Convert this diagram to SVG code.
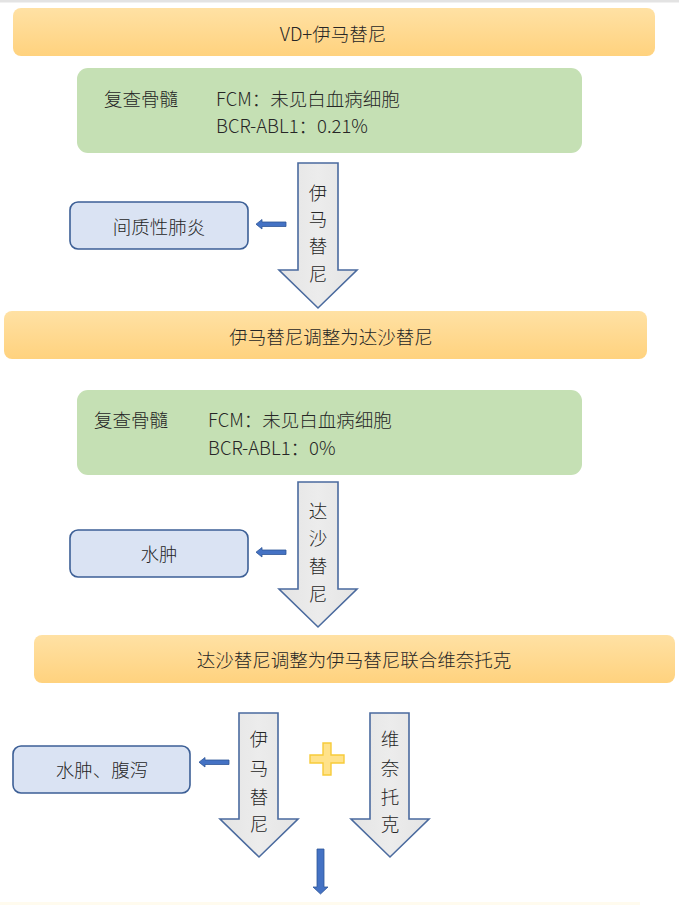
<svg xmlns="http://www.w3.org/2000/svg" width="679" height="905" viewBox="0 0 679 905">
<defs>
<linearGradient id="og" x1="0" y1="0" x2="0" y2="1">
<stop offset="0" stop-color="#FFE1A4"/>
<stop offset="1" stop-color="#FFD27E"/>
</linearGradient>
<linearGradient id="ag" x1="0" y1="0" x2="1" y2="0">
<stop offset="0" stop-color="#E4E4E4"/>
<stop offset="0.5" stop-color="#ECECEC"/>
<stop offset="1" stop-color="#E4E4E4"/>
</linearGradient>
<style>
.t{font-family:"Noto Sans CJK SC","Noto Sans",sans-serif;font-size:18.5px;font-weight:300;fill:#262626;dominant-baseline:central}
.c{text-anchor:middle}
.orange{fill:url(#og)}
.green{fill:#C5E0B4}
.blue{fill:#DAE3F3;stroke:#3C5F96;stroke-width:1.6}
.big{fill:url(#ag);stroke:#4A6A9E;stroke-width:1.6;stroke-linejoin:miter}
.small{fill:#4472C4;stroke:#2F5597;stroke-width:0.8}
.plus{fill:#FFE28A;stroke:#F7CB3A;stroke-width:1.4}
</style>
</defs>
<rect x="0" y="0" width="679" height="905" fill="#FFFFFF"/>
<rect x="0" y="0" width="679" height="2.5" fill="#E3E3E3"/>

<g id="box-vd">
<rect class="orange" x="13" y="8" width="642" height="48" rx="8"/>
<text class="t c" x="333" y="33">VD+伊马替尼</text>
</g>

<g id="bm1">
<rect class="green" x="77" y="68" width="505" height="85" rx="11"/>
<text class="t" x="104" y="98">复查骨髓</text>
<text class="t" x="216" y="98">FCM：未见白血病细胞</text>
<text class="t" x="216" y="125">BCR-ABL1：0.21%</text>
</g>

<g id="ae1">
<rect class="blue" x="70" y="202" width="178" height="47" rx="8"/>
<text class="t c" x="159" y="226">间质性肺炎</text>
</g>

<g id="box-switch1">
<rect class="orange" x="4" y="311" width="643" height="48" rx="8"/>
<text class="t c" x="331" y="336">伊马替尼调整为达沙替尼</text>
</g>

<g id="bm2">
<rect class="green" x="77" y="390" width="505" height="85" rx="11"/>
<text class="t" x="94" y="419">复查骨髓</text>
<text class="t" x="208" y="419">FCM：未见白血病细胞</text>
<text class="t" x="208" y="447">BCR-ABL1：0%</text>
</g>

<g id="ae2">
<rect class="blue" x="70" y="530" width="178" height="47" rx="8"/>
<text class="t c" x="159" y="553">水肿</text>
</g>

<g id="box-switch2">
<rect class="orange" x="34" y="635" width="641" height="48" rx="8"/>
<text class="t c" x="354" y="659">达沙替尼调整为伊马替尼联合维奈托克</text>
</g>

<g id="ae3">
<rect class="blue" x="13" y="746" width="177" height="47" rx="8"/>
<text class="t c" x="102" y="769">水肿、腹泻</text>
</g>

<g id="plus">
<path class="plus" d="M323 743 H331 V755 H344 V763 H331 V775 H323 V763 H310 V755 H323 Z"/>
</g>

<rect x="0" y="902" width="640" height="3" fill="#FFFBEE"/>

<g id="connectors">
<g id="arrow-ima1">
<path class="big" d="M298 163 H338 V270 H357 L318 308 L279 270 H298 Z"/>
<text class="t c" x="318" y="192">伊</text>
<text class="t c" x="318" y="218">马</text>
<text class="t c" x="318" y="245">替</text>
<text class="t c" x="318" y="273">尼</text>
</g>
<g id="arrow-das">
<path class="big" d="M298 482 H338 V589 H357 L318 627 L279 589 H298 Z"/>
<text class="t c" x="318" y="510">达</text>
<text class="t c" x="318" y="537">沙</text>
<text class="t c" x="318" y="565">替</text>
<text class="t c" x="318" y="593">尼</text>
</g>
<g id="arrow-ima2">
<path class="big" d="M239 713 H278 V819 H298 L259 857 L220 819 H239 Z"/>
<text class="t c" x="259" y="738">伊</text>
<text class="t c" x="259" y="767">马</text>
<text class="t c" x="259" y="796">替</text>
<text class="t c" x="259" y="823">尼</text>
</g>
<g id="arrow-ven">
<path class="big" d="M370 713 H409 V819 H429 L390 857 L351 819 H370 Z"/>
<text class="t c" x="390" y="738">维</text>
<text class="t c" x="390" y="767">奈</text>
<text class="t c" x="390" y="796">托</text>
<text class="t c" x="390" y="823">克</text>
</g>
<path class="small" d="M286 222 V226.5 H262 V229 L256 224.2 L262 219.5 V222 Z"/>
<path class="small" d="M286 550 V554.5 H262 V557 L256 552.2 L262 547.5 V550 Z"/>
<path class="small" d="M229 760 V764.5 H205 V767 L199 762.2 L205 757.5 V760 Z"/>
<path class="small" d="M317 849 H324 V887 H328 L320.5 894 L313 887 H317 Z"/>
</g>
</svg>
